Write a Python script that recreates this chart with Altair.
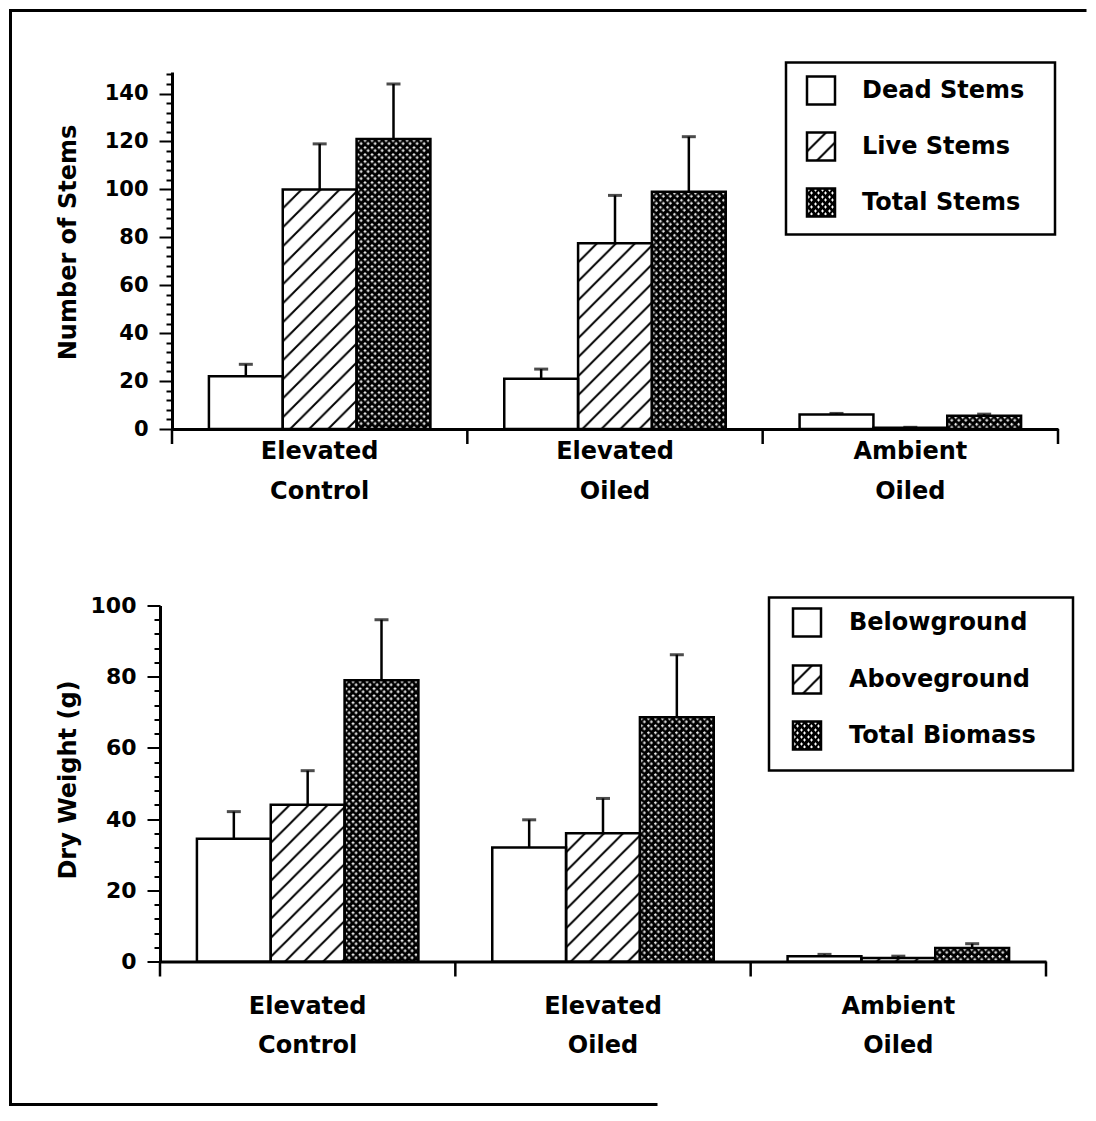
import urllib.parse
import altair as alt
import pandas as pd

# ---------------- data ----------------
categories = ["Elevated Control", "Elevated Oiled", "Ambient Oiled"]

stem_series = ["Dead Stems", "Live Stems", "Total Stems"]
stem_mean_ec = [22, 100, 121]
stem_mean_eo = [21, 77.5, 99]
stem_mean_ao = [6, 0.5, 5.5]
stem_se_ec = [5, 19, 23]
stem_se_eo = [4, 20, 23]
stem_se_ao = [0.5, 0.2, 0.7]

bio_series = ["Belowground", "Aboveground", "Total Biomass"]
bio_mean_ec = [34.5, 44, 79]
bio_mean_eo = [32, 36, 68.6]
bio_mean_ao = [1.5, 1.0, 3.8]
bio_se_ec = [7.6, 9.6, 17]
bio_se_eo = [7.8, 9.8, 17.6]
bio_se_ao = [0.5, 0.5, 1.2]

stem_ticks = list(range(0, 149, 4))
bio_ticks = list(range(0, 101, 4))

FONT = "DejaVu Sans"


def slot_order(series):
    order = []
    for i, cat in enumerate(categories):
        order += [cat + "|" + s for s in series]
        if i < len(categories) - 1:
            order.append("gap" + str(i))
    return order


def table(series, means, ses):
    rows = []
    for cat, m, s in zip(categories, means, ses):
        for name, v, e in zip(series, m, s):
            rows.append({"category": cat, "series": name, "slot": cat + "|" + name,
                         "mean": v, "upper": v + e})
    return pd.DataFrame(rows)


def svg_url(svg):
    return "data:image/svg+xml;charset=utf-8," + urllib.parse.quote(svg)


HATCH = svg_url(
    "<svg xmlns='http://www.w3.org/2000/svg'><defs>"
    "<pattern id='p' patternUnits='userSpaceOnUse' width='19' height='19'>"
    "<rect width='19' height='19' fill='white'/>"
    "<path d='M-2,21 L21,-2 M-2,2 L2,-2 M17,21 L21,17' stroke='black' stroke-width='2'/>"
    "</pattern></defs><rect width='100%' height='100%' fill='url(#p)'/></svg>"
)
CROSS = svg_url(
    "<svg xmlns='http://www.w3.org/2000/svg'><defs>"
    "<pattern id='p' patternUnits='userSpaceOnUse' width='7' height='7'>"
    "<rect width='7' height='7' fill='black'/>"
    "<rect x='0' y='1' width='3' height='1' fill='white'/>"
    "<rect x='1' y='0' width='1' height='3' fill='white'/>"
    "<rect x='3' y='4' width='3' height='1' fill='white'/>"
    "<rect x='4' y='3' width='1' height='3' fill='white'/>"
    "</pattern></defs><rect width='100%' height='100%' fill='url(#p)'/></svg>"
)
PATTERNS = [None, HATCH, CROSS]

one = pd.DataFrame({"k": [0]})


def panel(df, series, ticks, y_max, y_title, width, height, x0, y_off,
          x_label_pad, line_h, title_pad, title_y, tick_label_size, legend, frame=None):
    order = slot_order(series)
    xscale = alt.Scale(domain=order, paddingInner=0, paddingOuter=0.5, range=[x0, width])
    x_axis = alt.Axis(title=None, labels=False, ticks=False, domainWidth=3,
                      domainColor="black", grid=False)
    X = alt.X("slot:N", scale=xscale, axis=x_axis)
    y_axis = alt.Axis(
        values=ticks, labelExpr="datum.value % 20 === 0 ? datum.label : ''",
        tickSize={"condition": {"test": "datum.value % 20 === 0", "value": 13}, "value": 6},
        tickWidth=2, tickColor="black", domainWidth=3, domainColor="black",
        labelFont=FONT, labelFontWeight="bold", labelFontSize=tick_label_size,
        labelColor="black", labelPadding=11, labelOverlap=False, labelFlush=False,
        grid=False, title=y_title, titleFont=FONT, titleFontWeight="bold",
        titleFontSize=24, titleColor="black", titlePadding=title_pad, titleY=title_y,
        offset=y_off)
    yscale = alt.Scale(domain=[0, y_max], nice=False, zero=True)
    Y = alt.Y("mean:Q", scale=yscale, axis=y_axis)
    Yu = alt.Y("upper:Q", scale=yscale, axis=y_axis)

    base = alt.Chart(df)
    layers = [base.mark_bar(fill="white").encode(x=X, y=Y)]
    for name, url in zip(series, PATTERNS):
        if url:
            layers.append(
                base.transform_filter(alt.datum.series == name)
                .mark_image(aspect=False)
                .encode(x=X, y=Y, y2=alt.datum(0), url=alt.value(url)))
    layers.append(base.mark_bar(fillOpacity=0, stroke="black", strokeWidth=2.5)
                  .encode(x=X, y=Y))
    layers.append(base.mark_rule(color="black", strokeWidth=2.5)
                  .encode(x=X, y=Y, y2="upper:Q"))
    layers.append(base.mark_tick(color="black", size=14, thickness=3)
                  .encode(x=X, y=Yu))

    # category labels under the middle bar of each group
    cat_df = pd.DataFrame({"category": categories,
                           "slot": [c + "|" + series[1] for c in categories]})
    layers.append(alt.Chart(cat_df).mark_text(
        font=FONT, fontWeight="bold", fontSize=24, lineBreak=" ", lineHeight=line_h,
        baseline="top", align="center", color="black").encode(
        x=X, y=alt.value(height + x_label_pad), text="category:N"))

    # ticks between the groups and at both ends of the x axis
    gap_df = pd.DataFrame({"slot": [s for s in order if s.startswith("gap")]})
    layers.append(alt.Chart(gap_df).mark_rule(color="black", strokeWidth=2.5).encode(
        x=X, y=alt.value(height), y2=alt.value(height + 15)))
    for ex in (x0, width):
        layers.append(alt.Chart(one).mark_rule(color="black", strokeWidth=2.5).encode(
            x=alt.value(ex), y=alt.value(height), y2=alt.value(height + 15)))

    # legend
    bx0, bx1, by0, by1, sx0, sx1, tx, rows = legend
    layers.append(alt.Chart(one).mark_rect(fill="white", stroke="black", strokeWidth=2.5)
                  .encode(x=alt.value(bx0), x2=alt.value(bx1), y=alt.value(by0), y2=alt.value(by1)))
    for name, url, ry in zip(series, PATTERNS, rows):
        if url:
            layers.append(alt.Chart(one).mark_image(aspect=False).encode(
                x=alt.value(sx0), x2=alt.value(sx1), y=alt.value(ry - 14), y2=alt.value(ry + 14),
                url=alt.value(url)))
        layers.append(alt.Chart(one).mark_rect(fillOpacity=0, stroke="black", strokeWidth=2.5)
                      .encode(x=alt.value(sx0), x2=alt.value(sx1),
                              y=alt.value(ry - 14), y2=alt.value(ry + 14)))
        layers.append(alt.Chart(pd.DataFrame({"series": [name]}))
                      .mark_text(font=FONT, fontWeight="bold", fontSize=24, align="left",
                                 baseline="middle", color="black")
                      .encode(x=alt.value(tx), y=alt.value(ry), text="series:N"))
    if frame:
        fx0, fy0, fx1, fy1, fbx1 = frame
        for enc in (
            dict(x=alt.value(fx0), x2=alt.value(fx1), y=alt.value(fy0)),
            dict(x=alt.value(fx0), y=alt.value(fy0), y2=alt.value(fy1)),
            dict(x=alt.value(fx0), x2=alt.value(fbx1), y=alt.value(fy1)),
        ):
            layers.append(alt.Chart(one).mark_rule(color="black", strokeWidth=3,
                                                   strokeCap="square").encode(**enc))
    return alt.layer(*layers).properties(width=width, height=height)


stems = table(stem_series, [stem_mean_ec, stem_mean_eo, stem_mean_ao],
              [stem_se_ec, stem_se_eo, stem_se_ao])
bio = table(bio_series, [bio_mean_ec, bio_mean_eo, bio_mean_ao],
            [bio_se_ec, bio_se_eo, bio_se_ao])

top = panel(stems, stem_series, stem_ticks, 149, "Number of Stems", 898, 357, 12, -12,
            11, 40, 24, 170, 21,
            (626, 895, -9.5, 162.5, 647, 675, 702, [18.5, 74.5, 130.5]),
            frame=(-149.5, -61.5, 925, 1032.5, 496))
bottom = panel(bio, bio_series, bio_ticks, 100, "Dry Weight (g)", 886, 356, 0, 0,
               33, 39, 10, 174, 22,
               (609, 913, -8, 165, 633, 661, 689, [17, 74, 130]))

chart = alt.vconcat(top, bottom, spacing=176.5, bounds="flush").properties(
    padding=0, background="white"
).configure_view(strokeWidth=0)

chart.save("out.html", embed_options={"renderer": "svg", "actions": False})
